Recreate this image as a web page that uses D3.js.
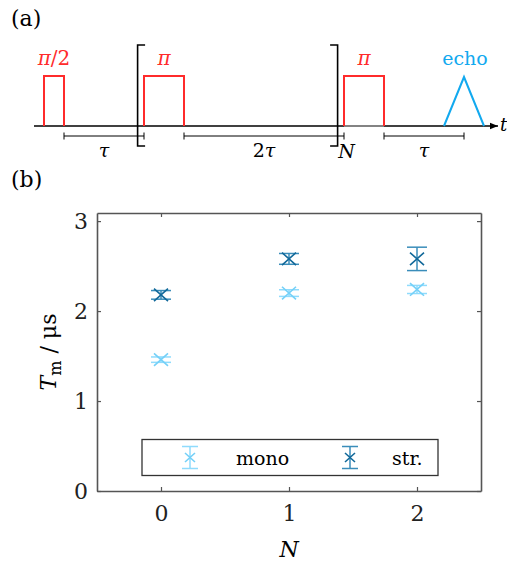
<!DOCTYPE html>
<html>
<head>
<meta charset="utf-8">
<script src="https://cdn.jsdelivr.net/npm/d3@7"></script>
<style>
  body { margin: 0; background: #fff; }
  svg { display: block; }
</style>
</head>
<body>
<svg id="chart" width="507" height="563"></svg>
<script>
// ---------- Panel (a): pulse sequence (time in units of tau) ----------
const pulseLabels = ["π/2", "π", "π"];
const pulseStarts = [0, 1.25, 3.75];
const pulseLengths = [0.25, 0.5, 0.5];
const intervalStarts = [0.25, 1.75, 4.25];
const intervalEnds = [1.25, 3.75, 5.25];
const intervalLabels = ["τ", "2τ", "τ"];
const bracketTimes = [1.17, 3.67];
const echoTime = 5.25;
const echoHalfWidth = 0.25;
const timeRange = [-0.125, 5.675];

// ---------- Panel (b): T_m vs N ----------
const nValues = [0, 1, 2];
const monoValues = [1.46, 2.20, 2.24];
const monoErrors = [0.03, 0.037, 0.045];
const strValues = [2.18, 2.58, 2.58];
const strErrors = [0.048, 0.06, 0.13];
const yTicks = [0, 1, 2, 3];
const xTicks = [0, 1, 2];
const seriesNames = ["mono", "str."];

const FONT = "'DejaVu Serif', 'Liberation Serif', serif";
const svg = d3.select("#chart");
const red = "#ff2b2b";
const echoBlue = "#12a9ef";
const monoColor = "#74d0f8";
const monoBar = "#8fdbfc";
const strColor = "#12699a";
const strBar = "#3a8dba";

function txt(sel) { return sel.append("text").attr("font-family", FONT); }

// ===== Panel (a) =====
const tx = d3.scaleLinear().domain([0, 1]).range([44, 124]); // 80 px per tau
const baseY = 126, pulseTop = 76, measY = 136;

txt(svg).attr("x", 11).attr("y", 26).attr("font-size", 22).text("(a)");

svg.append("defs").append("marker")
  .attr("id", "arr").attr("viewBox", "0 0 10 10").attr("refX", 10).attr("refY", 5)
  .attr("markerWidth", 8).attr("markerHeight", 8).attr("markerUnits", "userSpaceOnUse")
  .attr("orient", "auto")
  .append("path").attr("d", "M0,1 L10,5 L0,9 Z").attr("fill", "#000");

svg.append("line")
  .attr("x1", tx(timeRange[0])).attr("x2", tx(timeRange[1]))
  .attr("y1", baseY).attr("y2", baseY)
  .attr("stroke", "#000").attr("stroke-width", 1.6).attr("marker-end", "url(#arr)");
txt(svg).attr("x", 500).attr("y", baseY + 5)
  .attr("font-size", 18).attr("font-style", "italic").text("t");

svg.append("line")
  .attr("x1", tx(pulseStarts[2])).attr("x2", tx(pulseStarts[2] + pulseLengths[2]))
  .attr("y1", baseY).attr("y2", baseY).attr("stroke", "#9a9a9a").attr("stroke-width", 1.6);

pulseStarts.forEach((s, i) => {
  const x0 = tx(s), x1 = tx(s + pulseLengths[i]);
  svg.append("path")
    .attr("d", `M${x0},${baseY} L${x0},${pulseTop} L${x1},${pulseTop} L${x1},${baseY}`)
    .attr("fill", "none").attr("stroke", red).attr("stroke-width", 2);
  const t = txt(svg).attr("x", (x0 + x1) / 2).attr("y", 65)
    .attr("text-anchor", "middle").attr("font-size", 20).attr("fill", red);
  const parts = pulseLabels[i].split("/");
  t.append("tspan").attr("font-style", "italic").text(parts[0]);
  if (parts.length > 1) t.append("tspan").text("/" + parts[1]);
});

svg.append("path")
  .attr("d", `M${tx(echoTime - echoHalfWidth)},${baseY} L${tx(echoTime)},${pulseTop + 1} L${tx(echoTime + echoHalfWidth)},${baseY}`)
  .attr("fill", "none").attr("stroke", echoBlue).attr("stroke-width", 2);
txt(svg).attr("x", tx(echoTime) + 1).attr("y", 65)
  .attr("text-anchor", "middle").attr("font-size", 19).attr("fill", echoBlue).text("echo");

intervalStarts.forEach((s, i) => {
  const x0 = tx(s), x1 = tx(intervalEnds[i]);
  svg.append("line").attr("x1", x0).attr("x2", x1).attr("y1", measY).attr("y2", measY)
    .attr("stroke", "#000").attr("stroke-width", 1);
  [x0, x1].forEach(xx => svg.append("line").attr("x1", xx).attr("x2", xx)
    .attr("y1", measY - 3.5).attr("y2", measY + 3.5).attr("stroke", "#000").attr("stroke-width", 1));
  const t = txt(svg).attr("x", (x0 + x1) / 2).attr("y", 157)
    .attr("text-anchor", "middle").attr("font-size", 19);
  if (i === 1) {
    t.append("tspan").text("2");
    t.append("tspan").attr("font-style", "italic").text("τ");
  } else {
    t.attr("font-style", "italic").text(intervalLabels[i]);
  }
});

const bTop = 45, bBot = 146;
[[bracketTimes[0], 1], [bracketTimes[1], -1]].forEach(([t, dir]) => {
  const xx = tx(t);
  svg.append("path")
    .attr("d", `M${xx + dir * 7.5},${bTop} L${xx},${bTop} L${xx},${bBot} L${xx + dir * 7.5},${bBot}`)
    .attr("fill", "none").attr("stroke", "#000").attr("stroke-width", 1.6);
});
txt(svg).attr("x", tx(bracketTimes[1]) + 9).attr("y", 158)
  .attr("text-anchor", "middle").attr("font-size", 19).attr("font-style", "italic").text("N");

// ===== Panel (b) =====
txt(svg).attr("x", 11).attr("y", 187).attr("font-size", 22).text("(b)");

const L = 97, R = 481, T = 213, B = 491;
const x = d3.scaleLinear().domain([-0.5, 2.5]).range([L, R]);
const y = d3.scaleLinear().domain([0, 3.09]).range([B, T]);
const axisColor = "#555";

const styleAxis = g => {
  g.attr("font-family", FONT);
  g.selectAll("path.domain").attr("stroke", axisColor).attr("stroke-width", 1.6);
  g.selectAll(".tick line").attr("stroke", axisColor).attr("stroke-width", 1.2);
  g.selectAll(".tick text").attr("font-family", FONT).attr("font-size", 22).attr("fill", "#222");
};

svg.append("g").attr("transform", `translate(${L},0)`)
  .call(d3.axisLeft(y).tickValues(yTicks).tickFormat(d3.format("d")).tickSizeInner(-4).tickSizeOuter(0).tickPadding(9))
  .call(styleAxis);
svg.append("g").attr("transform", `translate(${R},0)`)
  .call(d3.axisRight(y).tickValues(yTicks).tickFormat("").tickSizeInner(-4).tickSizeOuter(0))
  .call(styleAxis);
svg.append("g").attr("transform", `translate(0,${B})`)
  .call(d3.axisBottom(x).tickValues(xTicks).tickFormat(d3.format("d")).tickSizeInner(-4).tickSizeOuter(0).tickPadding(14))
  .call(styleAxis);
svg.append("g").attr("transform", `translate(0,${T})`)
  .call(d3.axisTop(x).tickValues(xTicks).tickFormat("").tickSizeInner(-4).tickSizeOuter(0))
  .call(styleAxis);

txt(svg).attr("x", x(1)).attr("y", 557).attr("text-anchor", "middle")
  .attr("font-size", 22).attr("font-style", "italic").text("N");
const yl = txt(svg).attr("transform", `translate(56,${(T + B) / 2}) rotate(-90)`)
  .attr("text-anchor", "middle").attr("font-size", 22);
yl.append("tspan").attr("font-style", "italic").text("T");
yl.append("tspan").attr("font-size", 16).attr("dy", 5).text("m");
yl.append("tspan").attr("dy", -5).text(" / μs");

function drawMarker(g, cx, cy, yTop, yBot, capHalf, crossHalf, barColor, crossColor) {
  g.append("line").attr("x1", cx).attr("x2", cx).attr("y1", yTop).attr("y2", yBot)
    .attr("stroke", barColor).attr("stroke-width", 1.5);
  [yTop, yBot].forEach(yy => g.append("line").attr("x1", cx - capHalf).attr("x2", cx + capHalf)
    .attr("y1", yy).attr("y2", yy).attr("stroke", barColor).attr("stroke-width", 1.5));
  g.append("path")
    .attr("d", `M${cx - crossHalf},${cy - crossHalf * 0.9} L${cx + crossHalf},${cy + crossHalf * 0.9} M${cx - crossHalf},${cy + crossHalf * 0.9} L${cx + crossHalf},${cy - crossHalf * 0.9}`)
    .attr("stroke", crossColor).attr("stroke-width", 1.6).attr("fill", "none");
}

const series = [
  { vals: monoValues, errs: monoErrors, bar: monoBar, col: monoColor },
  { vals: strValues, errs: strErrors, bar: strBar, col: strColor }
];
const pts = svg.append("g");
series.forEach(s => {
  nValues.forEach((n, i) => {
    drawMarker(pts, x(n), y(s.vals[i]), y(s.vals[i] + s.errs[i]), y(s.vals[i] - s.errs[i]),
      10, 7, s.bar, s.col);
  });
});

const lg = svg.append("g");
lg.append("rect").attr("x", 142).attr("y", 439.5).attr("width", 296).attr("height", 36)
  .attr("fill", "#fff").attr("stroke", "#333").attr("stroke-width", 1.3);
const legendX = [190, 350];
const legendTextX = [236, 392];
series.forEach((s, i) => {
  drawMarker(lg, legendX[i], 457.5, 446.5, 468.5, 8, 5, s.bar, s.col);
  txt(lg).attr("x", legendTextX[i]).attr("y", 465).attr("font-size", 19).text(seriesNames[i]);
});
</script>
</body>
</html>
